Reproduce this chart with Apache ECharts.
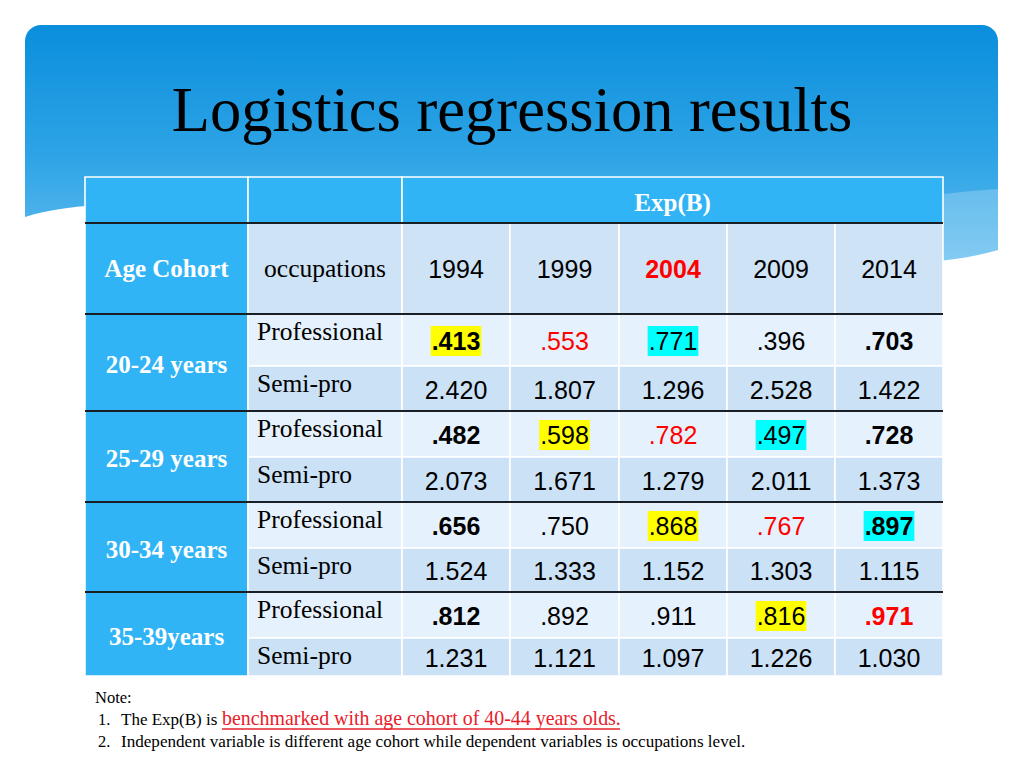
<!DOCTYPE html>
<html>
<head>
<meta charset="utf-8">
<script src="https://cdn.jsdelivr.net/npm/echarts@6/dist/echarts.min.js"></script>
<style>
html,body{margin:0;padding:0;background:#ffffff;}
#chart{width:1024px;height:768px;}
</style>
</head>
<body>
<div id="chart"></div>
<script>
// ---------------- data ----------------
const titleText = 'Logistics regression results';
const measureLabel = 'Exp(B)';
const cohortHeader = 'Age Cohort';
const occupationHeader = 'occupations';
const years = ['1994', '1999', '2004', '2009', '2014'];
const cohorts = ['20-24 years', '25-29 years', '30-34 years', '35-39years'];
const occupations = ['Professional', 'Semi-pro'];
const professional = [
  [0.413, 0.553, 0.771, 0.396, 0.703],
  [0.482, 0.598, 0.782, 0.497, 0.728],
  [0.656, 0.750, 0.868, 0.767, 0.897],
  [0.812, 0.892, 0.911, 0.816, 0.971]
];
const semiPro = [
  [2.420, 1.807, 1.296, 2.528, 1.422],
  [2.073, 1.671, 1.279, 2.011, 1.373],
  [1.524, 1.333, 1.152, 1.303, 1.115],
  [1.231, 1.121, 1.097, 1.226, 1.030]
];
const noteTitle = 'Note:';
const note1Lead = 'The Exp(B) is';
const note1Red = 'benchmarked with age cohort of 40-44 years olds.';
const note2 = 'Independent variable is different age cohort while dependent variables is occupations level.';

// ---------------- styles (b = bold, r = red, y = yellow mark, c = cyan mark) ----------------
const yearStyle = ['', '', 'br', '', ''];
const profStyle = [
  ['by', 'r', 'c', '', 'b'],
  ['b', 'y', 'r', 'c', 'b'],
  ['b', '', 'y', 'r', 'bc'],
  ['b', '', '', 'y', 'br']
];

// ---------------- layout ----------------
const colWidths = [163, 154, 108, 109, 108, 108, 108];
const rowHeights = [46, 91, 52, 45, 46, 45, 46, 44, 46, 38];
const colEdges = [0]; colWidths.forEach(w => colEdges.push(colEdges[colEdges.length - 1] + w));
const rowEdges = [0]; rowHeights.forEach(h => rowEdges.push(rowEdges[rowEdges.length - 1] + h));
const SERIF = "'Liberation Serif','Times New Roman',serif";
const SANS = "'Liberation Sans',Arial,Helvetica,sans-serif";
const BLUE = '#31b4f6', HEAD = '#cfe3f7', PROF = '#e5f1fc', SEMI = '#cbe1f6';
const SERIF_SIZE = 25.5, BOLD_SERIF_SIZE = 25, NUM_SIZE = 25;

function fmt(v) { const s = v.toFixed(3); return v < 1 ? s.replace(/^0/, '') : s; }

// banner outline (decoration): rounded top corners, curved bottom edge
function cubic(p0, p1, p2, p3, n) {
  const pts = [];
  for (let i = 0; i <= n; i++) {
    const t = i / n, u = 1 - t;
    pts.push([u*u*u*p0[0] + 3*u*u*t*p1[0] + 3*u*t*t*p2[0] + t*t*t*p3[0],
              u*u*u*p0[1] + 3*u*u*t*p1[1] + 3*u*t*t*p2[1] + t*t*t*p3[1]]);
  }
  return pts;
}
function corner(cx, cy, r, a0, a1, n) {
  const pts = [];
  for (let i = 0; i <= n; i++) { const a = a0 + (a1 - a0) * i / n; pts.push([cx + r * Math.cos(a), cy + r * Math.sin(a)]); }
  return pts;
}
const bannerPts = [].concat(
  corner(41, 41, 16, Math.PI, 1.5 * Math.PI, 8),
  corner(982, 41, 16, 1.5 * Math.PI, 2 * Math.PI, 8),
  cubic([998, 250], [800, 310], [200, 160], [25, 217], 60)
);
const sheenPts = [].concat(
  cubic([900, 199], [940, 194], [970, 191], [998, 189], 12),
  cubic([998, 250], [975, 257], [958, 262], [930, 272], 12)
);

const cells = [];
function addCell(o) { cells.push(Object.assign({cs: 1, rs: 1, anchor: 'center', color: '#000', weight: 'normal', family: SERIF, size: SERIF_SIZE}, o)); }
function styled(code) {
  return {
    weight: code.indexOf('b') >= 0 ? 'bold' : 'normal',
    color: code.indexOf('r') >= 0 ? '#ff0000' : '#000000',
    bg: code.indexOf('y') >= 0 ? '#ffff00' : (code.indexOf('c') >= 0 ? '#00ffff' : null)
  };
}
// header row 0
addCell({col: 0, row: 0, fill: BLUE});
addCell({col: 1, row: 0, fill: BLUE});
addCell({col: 2, row: 0, cs: years.length, fill: BLUE, text: measureLabel, color: '#fff', weight: 'bold', size: BOLD_SERIF_SIZE, dy: 2});
// header row 1
addCell({col: 0, row: 1, fill: BLUE, text: cohortHeader, color: '#fff', weight: 'bold', size: BOLD_SERIF_SIZE});
addCell({col: 1, row: 1, fill: HEAD, text: occupationHeader});
years.forEach((y, j) => { const s = styled(yearStyle[j]); addCell({col: 2 + j, row: 1, fill: HEAD, text: y, family: SANS, size: NUM_SIZE, weight: s.weight, color: s.color}); });
// body
cohorts.forEach((name, i) => {
  const r = 2 + 2 * i;
  addCell({col: 0, row: r, rs: 2, fill: BLUE, text: name, color: '#fff', weight: 'bold', size: BOLD_SERIF_SIZE, dy: 2});
  addCell({col: 1, row: r, fill: PROF, text: occupations[0], anchor: 'left'});
  addCell({col: 1, row: r + 1, fill: SEMI, text: occupations[1], anchor: 'left'});
  professional[i].forEach((v, j) => {
    const s = styled(profStyle[i][j]);
    addCell({col: 2 + j, row: r, fill: PROF, text: fmt(v), family: SANS, size: NUM_SIZE, weight: s.weight, color: s.color, bg: s.bg, dy: 1});
  });
  semiPro[i].forEach((v, j) => {
    addCell({col: 2 + j, row: r + 1, fill: SEMI, text: fmt(v), family: SANS, size: NUM_SIZE, dy: 1});
  });
});
const ruleRows = [1].concat(cohorts.map((_, i) => 2 + 2 * i));

function renderCell(params, api) {
  const c = cells[params.dataIndex];
  const p0 = api.coord([colEdges[c.col], rowEdges[c.row]]);
  const p1 = api.coord([colEdges[c.col + c.cs], rowEdges[c.row + c.rs]]);
  const x = p0[0], y = p0[1], w = p1[0] - p0[0], h = p1[1] - p0[1];
  const children = [{type: 'rect', shape: {x: x, y: y, width: w, height: h}, style: {fill: c.fill, stroke: '#ffffff', lineWidth: 1.6}}];
  if (c.text) {
    let tx, ty, align;
    if (c.anchor === 'left') { tx = x + 9; ty = y + 17; align = 'left'; }
    else { tx = x + w / 2; ty = y + h / 2 + (c.dy || 0); align = 'center'; }
    const st = {text: c.text, x: tx, y: ty, align: align, verticalAlign: 'middle', fill: c.color,
      fontFamily: c.family, fontSize: c.size, fontWeight: c.weight};
    if (c.bg) { st.backgroundColor = c.bg; st.padding = [3, 1, 2, 1]; }
    children.push({type: 'text', style: st});
  }
  return {type: 'group', children: children};
}
function renderRule(params, api) {
  const r = ruleRows[params.dataIndex];
  const a = api.coord([colEdges[0], rowEdges[r]]);
  const b = api.coord([colEdges[colEdges.length - 1], rowEdges[r]]);
  return {type: 'line', shape: {x1: a[0], y1: a[1], x2: b[0], y2: b[1]}, style: {stroke: '#1a1f26', lineWidth: 2}};
}

const chart = echarts.init(document.getElementById('chart'), null, {renderer: 'svg'});
chart.setOption({
  animation: false,
  backgroundColor: '#ffffff',
  grid: {left: 85, top: 177, width: colEdges[colEdges.length - 1], height: rowEdges[rowEdges.length - 1]},
  xAxis: {type: 'value', min: 0, max: colEdges[colEdges.length - 1], show: false},
  yAxis: {type: 'value', min: 0, max: rowEdges[rowEdges.length - 1], inverse: true, show: false},
  graphic: [
    {type: 'polygon', z: -10, silent: true,
      shape: {points: bannerPts},
      style: {fill: {type: 'linear', x: 0, y: 0, x2: 0, y2: 1, colorStops: [
        {offset: 0, color: '#0a8edc'}, {offset: 0.55, color: '#2ea4e6'}, {offset: 1, color: '#62bdef'}]}}},
    {type: 'polygon', z: -9, silent: true,
      shape: {points: sheenPts},
      style: {fill: 'rgba(255,255,255,0.22)'}},
    {type: 'text', z: 5, style: {text: titleText, x: 512, y: 110, align: 'center', verticalAlign: 'middle',
      fontFamily: SERIF, fontSize: 62.5, fill: '#000000'}},
    {type: 'text', style: {text: noteTitle, x: 95, y: 697, verticalAlign: 'middle', fontFamily: SERIF, fontSize: 16.5, fill: '#000'}},
    {type: 'text', style: {text: '1.', x: 98, y: 719, verticalAlign: 'middle', fontFamily: SERIF, fontSize: 16.5, fill: '#000'}},
    {type: 'text', style: {text: note1Lead, x: 121, y: 719, verticalAlign: 'middle', fontFamily: SERIF, fontSize: 17, fill: '#000'}},
    {type: 'text', style: {text: note1Red, x: 222, y: 718, verticalAlign: 'middle', fontFamily: SERIF, fontSize: 19.9, fill: '#e8202a'}},
    {type: 'line', shape: {x1: 222, y1: 729, x2: 620, y2: 729}, style: {stroke: '#e8202a', lineWidth: 1.5}},
    {type: 'text', style: {text: '2.', x: 98, y: 741, verticalAlign: 'middle', fontFamily: SERIF, fontSize: 16.5, fill: '#000'}},
    {type: 'text', style: {text: note2, x: 121, y: 741, verticalAlign: 'middle', fontFamily: SERIF, fontSize: 17.1, fill: '#000'}}
  ],
  series: [
    {type: 'custom', name: 'cells', renderItem: renderCell, encode: {x: 0, y: 1},
      data: cells.map(c => [colEdges[c.col], rowEdges[c.row]]), z: 2},
    {type: 'custom', name: 'rules', renderItem: renderRule, encode: {x: 0, y: 1},
      data: ruleRows.map(r => [colEdges[0], rowEdges[r]]), z: 3}
  ]
});
</script>
</body>
</html>
